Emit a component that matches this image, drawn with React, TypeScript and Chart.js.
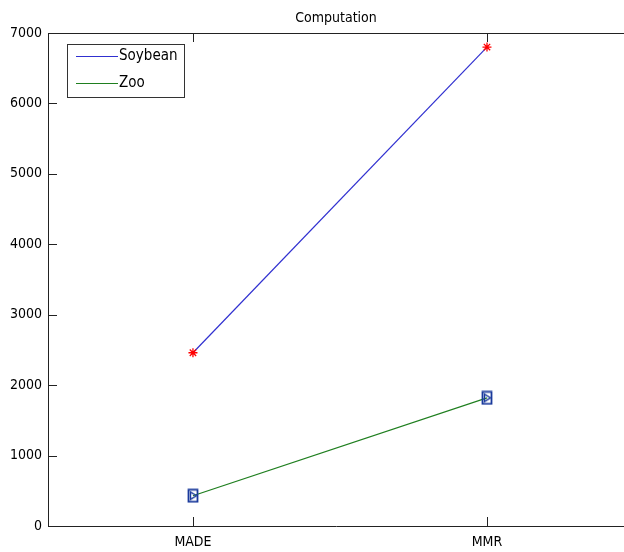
import React, { useEffect, useRef } from 'react';
import { Chart, registerables } from 'chart.js';

Chart.register(...registerables);

const categories = ['MADE', 'MMR'];
const seriesNames = ['Soybean', 'Zoo'];
const soybean = [2460, 6800];
const zoo = [430, 1820];
const yTickValues = [0, 1000, 2000, 3000, 4000, 5000, 6000, 7000];

const FONT = '"DejaVu Sans Condensed", "Liberation Sans", Arial, sans-serif';

function makeZooMarker(): HTMLCanvasElement {
  const c = document.createElement('canvas');
  c.width = 12;
  c.height = 15;
  const ctx = c.getContext('2d')!;
  ctx.strokeStyle = '#1a3a9c';
  ctx.lineWidth = 1.8;
  ctx.strokeRect(1.5, 1.5, 9, 12);
  ctx.beginPath();
  ctx.moveTo(3.5, 3.8);
  ctx.lineTo(9.5, 7.5);
  ctx.lineTo(3.5, 11.2);
  ctx.closePath();
  ctx.lineWidth = 1.4;
  ctx.stroke();
  return c;
}

// Stretch the plot area to the right edge of the canvas (the MATLAB axes run off the picture).
const stretchPlugin = {
  id: 'stretchRight',
  afterLayout(chart: any) {
    const W = chart.width;
    const a = chart.chartArea;
    a.right = W;
    a.width = a.right - a.left;
    const x = chart.scales.x;
    x.right = W;
    x.width = W - x.left;
    x.configure();
    const tb = chart.titleBlock;
    if (tb) {
      tb.left = a.left;
      tb.right = W;
      tb.width = W - a.left;
    }
  },
};

const framePlugin = {
  id: 'matlabFrame',
  afterDraw(chart: any) {
    const { ctx, chartArea: a, scales } = chart;
    ctx.save();
    ctx.strokeStyle = '#222';
    ctx.lineWidth = 1;
    ctx.beginPath();
    ctx.moveTo(a.left, a.top + 0.5);
    ctx.lineTo(a.right, a.top + 0.5);
    ctx.stroke();
    scales.y.ticks.forEach((t: any) => {
      const py = Math.round(scales.y.getPixelForValue(t.value)) + 0.5;
      ctx.beginPath();
      ctx.moveTo(a.left, py);
      ctx.lineTo(a.left + 9, py);
      ctx.stroke();
    });
    scales.x.ticks.forEach((t: any) => {
      const px = Math.round(scales.x.getPixelForValue(t.value)) + 0.5;
      ctx.beginPath();
      ctx.moveTo(px, a.bottom);
      ctx.lineTo(px, a.bottom - 9);
      ctx.moveTo(px, a.top);
      ctx.lineTo(px, a.top + 9);
      ctx.stroke();
    });
    const lx = 67, ly = 44, lw = 117, lh = 53;
    ctx.fillStyle = '#fff';
    ctx.fillRect(lx, ly, lw, lh);
    ctx.strokeStyle = '#333';
    ctx.strokeRect(lx + 0.5, ly + 0.5, lw, lh);
    const rows = [56.5, 83.5];
    chart.data.datasets.forEach((ds: any, i: number) => {
      if (!ds.label) return;
      ctx.strokeStyle = ds.borderColor;
      ctx.lineWidth = 1.2;
      ctx.beginPath();
      ctx.moveTo(76, rows[i]);
      ctx.lineTo(118, rows[i]);
      ctx.stroke();
      ctx.fillStyle = '#000';
      ctx.font = '15px ' + FONT;
      ctx.textBaseline = 'middle';
      ctx.textAlign = 'left';
      ctx.fillText(ds.label, 119, rows[i]);
    });
    ctx.restore();
  },
};

export default function App() {
  const ref = useRef<HTMLCanvasElement>(null);
  useEffect(() => {
    const xs = categories.map((_, i) => i + 1);
    const chart = new Chart(ref.current!, {
      type: 'line',
      data: {
        datasets: [
          {
            label: seriesNames[0],
            data: xs.map((x, i) => ({ x, y: soybean[i] })),
            borderColor: '#3030d0',
            borderWidth: 1.2,
            pointStyle: 'star',
            pointRadius: 4.5,
            pointBorderColor: '#ff0000',
            pointBackgroundColor: '#ff0000',
            pointBorderWidth: 1.3,
            fill: false,
          },
          {
            label: seriesNames[1],
            data: xs.map((x, i) => ({ x, y: zoo[i] })),
            borderColor: '#1f7f1f',
            borderWidth: 1.2,
            pointStyle: makeZooMarker() as any,
            pointRadius: 6,
            fill: false,
          },
        ],
      },
      options: {
        animation: false,
        responsive: false,
        events: [],
        layout: { padding: 0 },
        plugins: {
          legend: { display: false },
          tooltip: { enabled: false },
          title: {
            display: true,
            text: 'Computation',
            fullSize: false,
            color: '#000',
            font: { family: FONT, size: 14, weight: 'normal' },
            padding: { top: 10, bottom: 6.2 },
          },
        },
        scales: {
          x: {
            type: 'linear',
            min: 0.507,
            max: 2.466,
            afterBuildTicks: (scale: any) => {
              scale.ticks = xs.map((v) => ({ value: v }));
            },
            afterFit: (scale: any) => {
              scale.height = 26;
            },
            ticks: {
              callback: (v: any) => categories[Number(v) - 1] ?? '',
              color: '#000',
              font: { family: FONT, size: 14 },
              padding: 8,
              maxRotation: 0,
              autoSkip: false,
            },
            grid: { display: false, drawTicks: false },
            border: { display: true, color: '#222', width: 1 },
          },
          y: {
            type: 'linear',
            min: 0,
            max: 7000,
            afterBuildTicks: (scale: any) => {
              scale.ticks = yTickValues.map((v) => ({ value: v }));
            },
            afterFit: (scale: any) => {
              scale.width = 48;
            },
            ticks: {
              color: '#000',
              font: { family: FONT, size: 14 },
              padding: 6,
              callback: (v: any) => String(v),
            },
            grid: { display: false, drawTicks: false },
            border: { display: true, color: '#222', width: 1 },
          },
        },
      },
      plugins: [stretchPlugin, framePlugin],
    });
    return () => chart.destroy();
  }, []);
  return (
    <div style={{ position: 'absolute', left: 0, top: 0, width: 624, height: 552, background: '#fff' }}>
      <canvas ref={ref} width={624} height={552} />
    </div>
  );
}
